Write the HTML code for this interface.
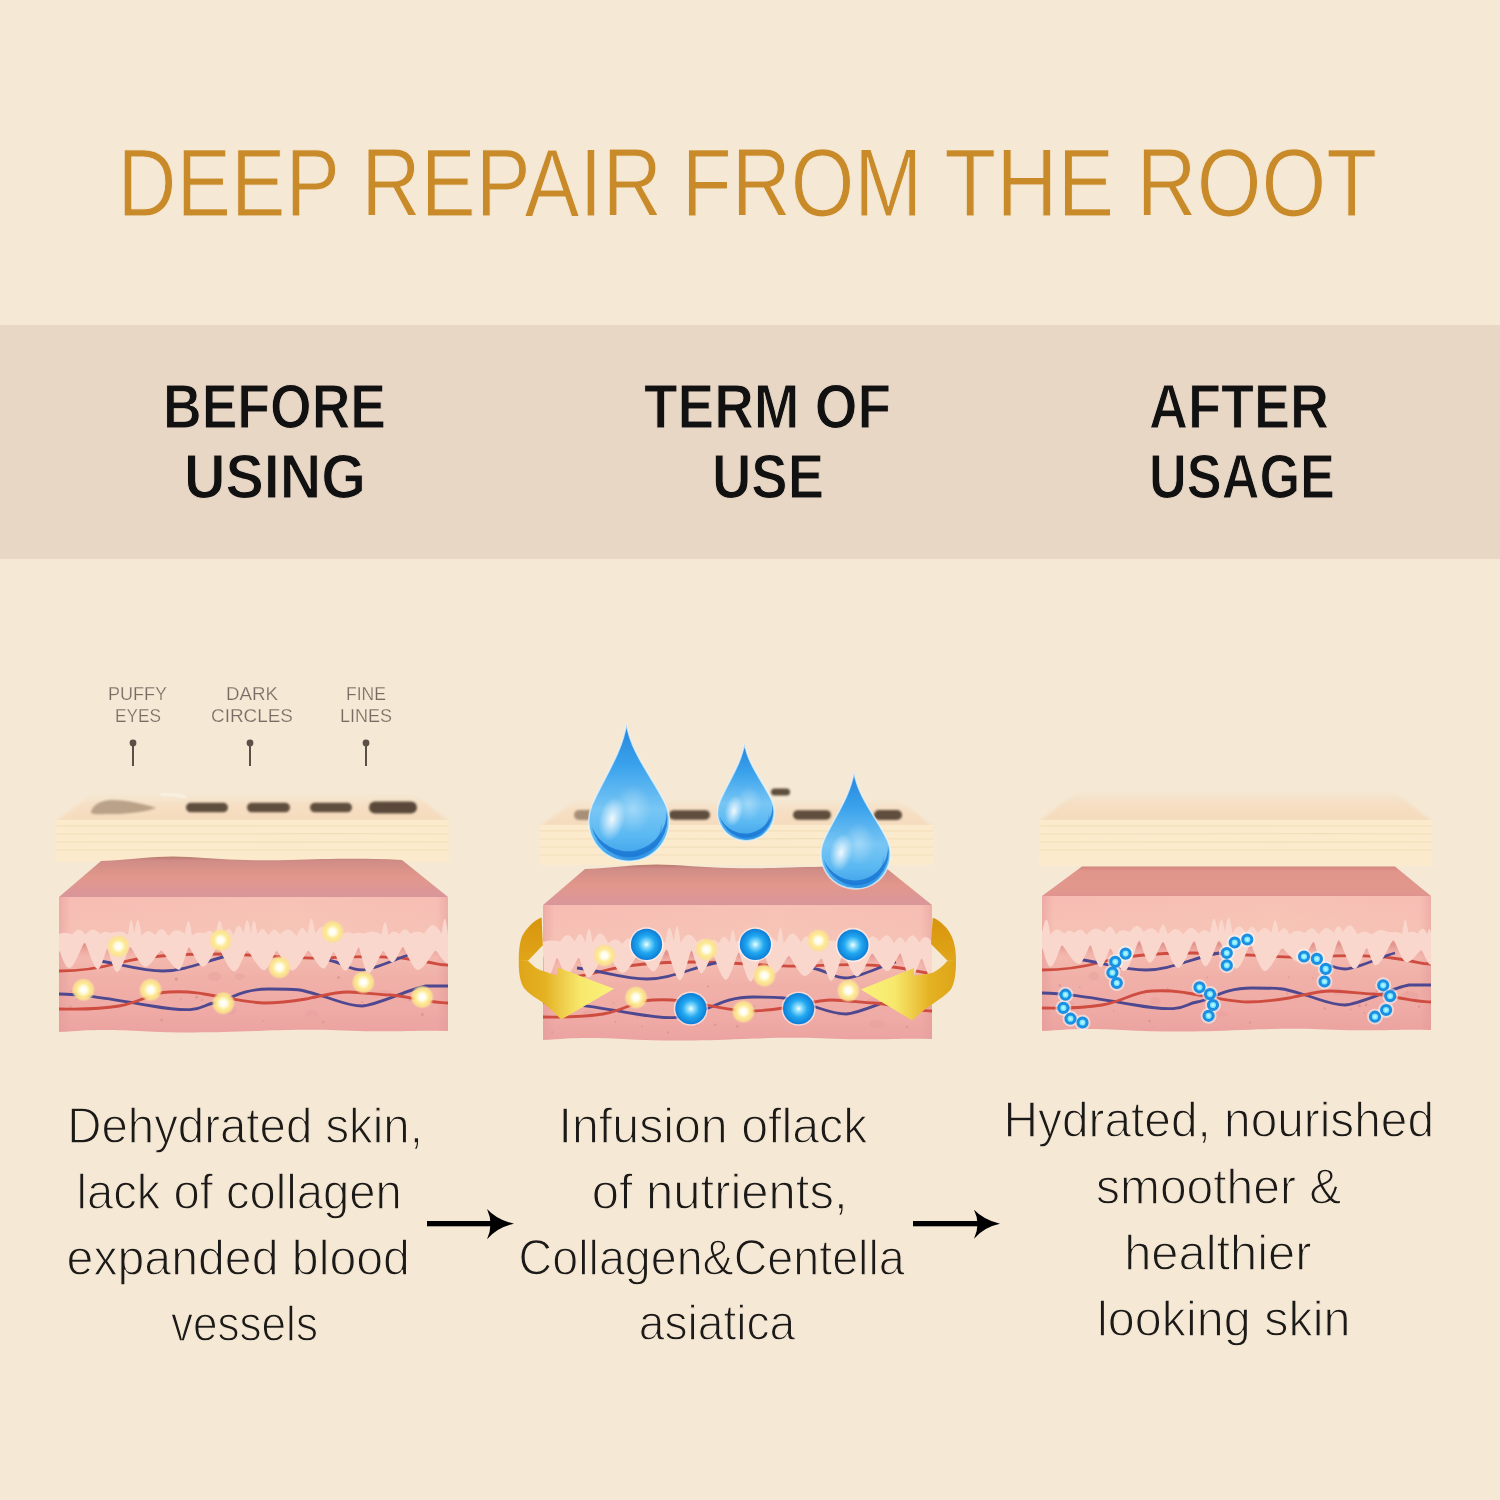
<!DOCTYPE html>
<html><head><meta charset="utf-8"><style>
html,body{margin:0;padding:0;background:#f5e8d4;width:1500px;height:1500px;overflow:hidden}
svg{display:block;will-change:transform}
text{font-family:"Liberation Sans",sans-serif}
</style></head><body>
<svg width="1500" height="1500" viewBox="0 0 1500 1500">
<rect width="1500" height="1500" fill="#f5e8d4"/>
<rect y="325" width="1500" height="234" fill="#e9d7c6"/>

<g font-size="96" fill="#c98b2a" stroke="#f5e8d4" stroke-width="1.1">
<text x="117.6" y="216" textLength="222.4" lengthAdjust="spacingAndGlyphs">DEEP</text>
<text x="361.2" y="216" textLength="300.8" lengthAdjust="spacingAndGlyphs">REPAIR</text>
<text x="681.8" y="216" textLength="240.6" lengthAdjust="spacingAndGlyphs">FROM</text>
<text x="944.3" y="216" textLength="170.0" lengthAdjust="spacingAndGlyphs">THE</text>
<text x="1136.6" y="216" textLength="240.5" lengthAdjust="spacingAndGlyphs">ROOT</text>
</g>

<g font-weight="bold" fill="#111" font-size="63" stroke="#e9d7c6" stroke-width="1.1">
<text x="163.0" y="428" textLength="223.0" lengthAdjust="spacingAndGlyphs">BEFORE</text>
<text x="184.0" y="498" textLength="182.0" lengthAdjust="spacingAndGlyphs">USING</text>
<text x="644.0" y="428" textLength="247.0" lengthAdjust="spacingAndGlyphs">TERM OF</text>
<text x="712.0" y="498" textLength="112.0" lengthAdjust="spacingAndGlyphs">USE</text>
<text x="1149.0" y="428" textLength="180.0" lengthAdjust="spacingAndGlyphs">AFTER</text>
<text x="1149.0" y="498" textLength="186.0" lengthAdjust="spacingAndGlyphs">USAGE</text>
</g>


<defs>
  <linearGradient id="beigeTop" x1="0" y1="0" x2="0" y2="1">
    <stop offset="0" stop-color="#f5e3cb" stop-opacity="0.2"/>
    <stop offset=".35" stop-color="#f6dfc3"/>
    <stop offset="1" stop-color="#f6dbbd"/>
  </linearGradient>
  <linearGradient id="pinkTop" x1="0" y1="0" x2="0" y2="1">
    <stop offset="0" stop-color="#b8786f"/>
    <stop offset=".1" stop-color="#cf8c86"/>
    <stop offset=".5" stop-color="#e2978b"/>
    <stop offset="1" stop-color="#d9969a"/>
  </linearGradient>
  <linearGradient id="front" x1="0" y1="0" x2="0" y2="1">
    <stop offset="0" stop-color="#f7bcb3"/>
    <stop offset=".25" stop-color="#f6c1b5"/>
    <stop offset=".45" stop-color="#f3b8ae"/>
    <stop offset=".6" stop-color="#f0b0a8"/>
    <stop offset=".85" stop-color="#efaaa5"/>
    <stop offset="1" stop-color="#eba3a0"/>
  </linearGradient>
  <linearGradient id="edges" x1="0" y1="0" x2="1" y2="0">
    <stop offset="0" stop-color="#e29a98" stop-opacity=".5"/>
    <stop offset=".03" stop-color="#e29a98" stop-opacity="0"/>
    <stop offset=".97" stop-color="#e29a98" stop-opacity="0"/>
    <stop offset="1" stop-color="#e29a98" stop-opacity=".5"/>
  </linearGradient>
  <linearGradient id="peach" x1="0" y1="0" x2="1" y2="0">
    <stop offset="0" stop-color="#f6c6b8" stop-opacity="0"/>
    <stop offset=".6" stop-color="#f7cbb8" stop-opacity=".8"/>
    <stop offset="1" stop-color="#f6c6b8" stop-opacity="0.2"/>
  </linearGradient>
  <radialGradient id="glow">
    <stop offset="0" stop-color="#ffffff"/>
    <stop offset=".28" stop-color="#fffce8"/>
    <stop offset=".55" stop-color="#fdea94"/>
    <stop offset=".8" stop-color="#fbe38e" stop-opacity=".85"/>
    <stop offset="1" stop-color="#f8dc9a" stop-opacity="0"/>
  </radialGradient>
  <radialGradient id="sph" cx=".5" cy=".5" r=".5">
    <stop offset="0" stop-color="#f0ffff"/>
    <stop offset=".22" stop-color="#8adcfb"/>
    <stop offset=".55" stop-color="#22a8f0"/>
    <stop offset="1" stop-color="#0c7ed8"/>
  </radialGradient>
  <linearGradient id="dropG" x1="0" y1="0" x2="0" y2="1">
    <stop offset="0" stop-color="#2784da"/>
    <stop offset=".3" stop-color="#3aa2ec"/>
    <stop offset=".62" stop-color="#78c6f4"/>
    <stop offset=".82" stop-color="#5ab8f2"/>
    <stop offset="1" stop-color="#3a9ee8"/>
  </linearGradient>
  <linearGradient id="pinkTopR" x1="0" y1="0" x2="0" y2="1">
    <stop offset="0" stop-color="#d2857c"/>
    <stop offset=".15" stop-color="#e0948a"/>
    <stop offset=".7" stop-color="#e2978c"/>
    <stop offset="1" stop-color="#df9490"/>
  </linearGradient>
  <linearGradient id="tipdark" x1="0" y1="0" x2="0" y2="1">
    <stop offset="0" stop-color="#cf6e6a" stop-opacity=".0"/>
    <stop offset=".35" stop-color="#cf6e6a" stop-opacity=".55"/>
    <stop offset=".75" stop-color="#e79a94" stop-opacity=".3"/>
    <stop offset="1" stop-color="#efaea6" stop-opacity="0"/>
  </linearGradient>
  <radialGradient id="ringC">
    <stop offset="0" stop-color="#c8ffff"/>
    <stop offset=".6" stop-color="#6ee0fc"/>
    <stop offset="1" stop-color="#3ab8f4"/>
  </radialGradient>
  <radialGradient id="hl2">
    <stop offset="0" stop-color="#bfe6fb" stop-opacity=".55"/>
    <stop offset="1" stop-color="#bfe6fb" stop-opacity="0"/>
  </radialGradient>
  <radialGradient id="hl">
    <stop offset="0" stop-color="#ffffff" stop-opacity=".9"/>
    <stop offset="1" stop-color="#ffffff" stop-opacity="0"/>
  </radialGradient>
  <linearGradient id="goldL" gradientUnits="userSpaceOnUse" x1="518" y1="0" x2="614" y2="0">
    <stop offset="0" stop-color="#dfa418"/>
    <stop offset=".28" stop-color="#e4b222"/>
    <stop offset=".45" stop-color="#eecb48"/>
    <stop offset=".65" stop-color="#f7e86c"/>
    <stop offset="1" stop-color="#faf27c"/>
  </linearGradient>
  <linearGradient id="goldR" gradientUnits="userSpaceOnUse" x1="956" y1="0" x2="861" y2="0">
    <stop offset="0" stop-color="#dfa418"/>
    <stop offset=".28" stop-color="#e4b222"/>
    <stop offset=".45" stop-color="#eecb48"/>
    <stop offset=".65" stop-color="#f7e86c"/>
    <stop offset="1" stop-color="#faf27c"/>
  </linearGradient>
  <linearGradient id="goldBack" x1="0" y1="0" x2="0" y2="1">
    <stop offset="0" stop-color="#d8940e"/>
    <stop offset="1" stop-color="#e0a618"/>
  </linearGradient>
  <filter id="soft2" x="-20%" y="-50%" width="140%" height="200%"><feGaussianBlur stdDeviation="0.8"/></filter>
  <filter id="soft" x="-5%" y="-30%" width="110%" height="160%"><feGaussianBlur stdDeviation="1.6"/></filter>
</defs>

<g fill="#766c64" font-size="18.5" stroke="#f4e8d4" stroke-width="0.25">
<text x="108" y="699.5" textLength="59" lengthAdjust="spacingAndGlyphs">PUFFY</text>
<text x="115" y="722" textLength="46" lengthAdjust="spacingAndGlyphs">EYES</text>
<text x="226" y="699.5" textLength="52" lengthAdjust="spacingAndGlyphs">DARK</text>
<text x="211" y="722" textLength="82" lengthAdjust="spacingAndGlyphs">CIRCLES</text>
<text x="346" y="699.5" textLength="40" lengthAdjust="spacingAndGlyphs">FINE</text>
<text x="340" y="722" textLength="52" lengthAdjust="spacingAndGlyphs">LINES</text>
</g>
<g fill="#5a5048" stroke="#5a5048">
<circle cx="133" cy="743" r="3.4" stroke="none"/><line x1="133" y1="743" x2="133" y2="766" stroke-width="2"/>
<circle cx="250" cy="743" r="3.4" stroke="none"/><line x1="250" y1="743" x2="250" y2="766" stroke-width="2"/>
<circle cx="366" cy="743" r="3.4" stroke="none"/><line x1="366" y1="743" x2="366" y2="766" stroke-width="2"/>
</g>
<g transform="translate(59,897)">
<g>
  <path d="M-3,-76 L33,-102 L356,-102 L390,-76 Z" fill="url(#beigeTop)" filter="url(#soft)"/>
  <rect x="-3" y="-77" width="393" height="42" fill="#fbebcc"/>
  <g stroke="#f0dbb8" stroke-width="1.2" fill="none" opacity=".85">
    <path d="M-3,-71 C100,-72 200,-70 390,-71"/>
    <path d="M-3,-63 C80,-62 250,-64 390,-63"/>
    <path d="M-3,-55 C120,-56 260,-54 390,-55"/>
    <path d="M-3,-47 C100,-46 220,-48 390,-47"/>
  </g>
  <path d="M0,0 L42,-36 C80,-38 100,-42 130,-40 S190,-36 230,-37 S300,-39 343,-37 L389,0 Z" fill="url(#pinkTop)"/>
  <path d="M0,0 L389,0 L389,134 C360,133 340,135 300,134 S250,132 200,134 S120,136 80,134 S30,133 0,135 Z" fill="url(#front)"/>
  <rect x="0" y="0" width="389" height="134" fill="url(#edges)"/>
  <rect x="0" y="0" width="389" height="48" fill="url(#peach)" opacity=".5"/>
  <rect x="0" y="40" width="389" height="22" fill="url(#tipdark)"/>
  <circle cx="142.8" cy="103.1" r="1.1" fill="#c77c7c" opacity="0.4"/><circle cx="160.7" cy="111.6" r="1" fill="#c77c7c" opacity="0.4"/><circle cx="11.8" cy="94.5" r="1.1" fill="#c77c7c" opacity="0.3"/><circle cx="285.3" cy="94.9" r="1.4" fill="#c77c7c" opacity="0.5"/><circle cx="102.6" cy="122.9" r="1.4" fill="#c77c7c" opacity="0.4"/><circle cx="18.2" cy="101.9" r="1.3" fill="#c77c7c" opacity="0.3"/><circle cx="91.7" cy="94.9" r="1" fill="#c77c7c" opacity="0.4"/><circle cx="137.7" cy="100.3" r="1.3" fill="#c77c7c" opacity="0.5"/><circle cx="117.3" cy="82.1" r="1.6" fill="#c77c7c" opacity="0.5"/><circle cx="302.8" cy="105.1" r="1" fill="#c77c7c" opacity="0.3"/><circle cx="121.5" cy="102.1" r="0.9" fill="#c77c7c" opacity="0.4"/><circle cx="279.5" cy="80.6" r="1.5" fill="#c77c7c" opacity="0.4"/><circle cx="350.7" cy="102.8" r="1.4" fill="#c77c7c" opacity="0.4"/><circle cx="236.7" cy="104" r="0.8" fill="#c77c7c" opacity="0.3"/><circle cx="94.6" cy="99.5" r="1.1" fill="#c77c7c" opacity="0.4"/><circle cx="253.9" cy="99.2" r="1.1" fill="#c77c7c" opacity="0.4"/><circle cx="363.4" cy="117.6" r="1.3" fill="#c77c7c" opacity="0.5"/><circle cx="93" cy="84.8" r="0.9" fill="#c77c7c" opacity="0.3"/><circle cx="11.4" cy="110" r="1.5" fill="#c77c7c" opacity="0.3"/><circle cx="264.2" cy="125.1" r="1.4" fill="#c77c7c" opacity="0.3"/><circle cx="246.1" cy="92.3" r="0.9" fill="#c77c7c" opacity="0.3"/><circle cx="204" cy="124.1" r="0.9" fill="#c77c7c" opacity="0.3"/><ellipse cx="155.5" cy="79.6" rx="6.9" ry="4.5" fill="#e49a9a" opacity=".35"/><ellipse cx="180.8" cy="79.6" rx="5.1" ry="3.4" fill="#e49a9a" opacity=".35"/><ellipse cx="252.8" cy="116.8" rx="7" ry="3.2" fill="#e49a9a" opacity=".35"/><ellipse cx="95.4" cy="95.5" rx="5.4" ry="3.2" fill="#e49a9a" opacity=".35"/><ellipse cx="171.5" cy="113.3" rx="6" ry="4.8" fill="#e49a9a" opacity=".35"/><ellipse cx="325.8" cy="96.2" rx="5.9" ry="3.4" fill="#e49a9a" opacity=".35"/>
  
<path d="M0,74 C25,74 45,70 60,66 S100,57 150,57 S230,62 260,61 S320,58 350,62 S375,68 389,68" stroke="#cf4c40" stroke-width="2.8" fill="none"/>
<path d="M34,63 C60,66 80,74 104,74 S150,62 177,57 M269,63 C285,66 290,73 303,73 S340,60 353,57" stroke="#4e4890" stroke-width="2.8" fill="none"/>
<path d="M0,97 C20,97 40,100 93,109 S140,108 155,106 S180,92 210,92 S240,92 260,98 S290,109 303,109 S350,92 367,89 L389,89" stroke="#4e4890" stroke-width="2.8" fill="none"/>
<path d="M0,112 C20,112 37,113 60,109 S90,96 110,95 S130,95 145,97 S190,106 205,106 S235,104 247,102 S275,95 289,95 S320,98 331,98 S370,106 389,106" stroke="#cf4c40" stroke-width="2.8" fill="none"/>

  <path d="M0,37 Q3.9,35.7 6.5,35.7 Q9.1,35.7 13.1,37.4 Q17.1,32.7 19.9,32.7 Q22.6,32.7 26.6,37.5 Q31,32.4 34,32.4 Q36.9,32.4 41.3,36.9 Q44.3,34.8 46.2,34.8 Q48.2,34.8 51.1,36.1 Q56.5,34.6 60,34.6 Q63.6,34.6 69,37.8 Q70.8,23.1 72.1,23.1 Q73.3,23.1 75.1,36.6 Q77.3,22.9 78.8,22.9 Q80.3,22.9 82.5,38.5 Q86.6,34 89.3,34 Q92,34 96.1,38 Q100.1,32 102.7,32 Q105.3,32 109.3,39 Q114.2,33.3 117.5,33.3 Q120.8,33.3 125.8,36.7 Q128,24.1 129.4,24.1 Q130.9,24.1 133,38.5 Q136.8,35.4 139.3,35.4 Q141.8,35.4 145.5,36 Q148.8,33.9 150.9,33.9 Q153.1,33.9 156.4,38.9 Q158.9,23.5 160.6,23.5 Q162.2,23.5 164.7,36.8 Q167.7,31.9 169.6,31.9 Q171.6,31.9 174.5,38.3 Q177.5,28.4 179.5,28.4 Q181.5,28.4 184.6,36.2 Q186.8,23.2 188.2,23.2 Q189.7,23.2 191.9,36.6 Q193.8,23.6 195.1,23.6 Q196.4,23.6 198.3,37.3 Q201.5,31.9 203.7,31.9 Q205.9,31.9 209.2,38.4 Q212.7,32.8 215,32.8 Q217.4,32.8 220.9,37.2 Q225.9,32.4 229.3,32.4 Q232.6,32.4 237.6,39 Q240.9,31.1 243.1,31.1 Q245.2,31.1 248.5,37 Q250.8,21.4 252.4,21.4 Q253.9,21.4 256.3,36.7 Q260.6,29.8 263.5,29.8 Q266.4,29.8 270.7,38.9 Q274.7,35.5 277.4,35.5 Q280,35.5 284,36.5 Q287.1,35.3 289.2,35.3 Q291.3,35.3 294.4,36.7 Q297.6,35.8 299.8,35.8 Q301.9,35.8 305.1,36.6 Q310.4,34.4 313.9,34.4 Q317.4,34.4 322.7,37.3 Q324.7,24.9 326,24.9 Q327.4,24.9 329.4,38.1 Q332.8,34.4 335.1,34.4 Q337.3,34.4 340.7,36.9 Q343.9,32.3 346,32.3 Q348.1,32.3 351.3,36.7 Q355.5,34.5 358.3,34.5 Q361.1,34.5 365.3,36.8 Q370.5,28.1 373.9,28.1 Q377.4,28.1 382.6,36.8 Q384.5,21.7 385.8,21.7 Q387.1,21.7 389,37.7 L389,66.6 C384.6,66.6 378.5,53.7 376.7,53.7 C374.2,53.7 365.3,72.9 358.9,72.9 C353.4,72.9 345.8,50 343.7,50 C342.3,50 337.1,65.4 333.4,65.4 C330.1,65.4 325.6,53.9 324.3,53.9 C322.1,53.9 314.5,76.6 309,76.6 C305.7,76.6 301.1,50.6 299.8,50.6 C297.9,50.6 291.2,73.8 286.4,73.8 C282.2,73.8 276.2,55 274.6,55 C273.2,55 268.4,71.6 264.9,71.6 C259.3,71.6 251.4,53.8 249.3,53.8 C247.1,53.8 239.2,73.4 233.6,73.4 C227.8,73.4 219.7,54 217.5,54 C215.8,54 209.7,73.2 205.3,73.2 C199.2,73.2 190.6,53.5 188.2,53.5 C186.4,53.5 180,74.5 175.4,74.5 C169.4,74.5 161,49.9 158.7,49.9 C156.6,49.9 149.3,69.6 144.1,69.6 C138.9,69.6 131.8,50.3 129.8,50.3 C128.4,50.3 123.6,72.7 120.1,72.7 C113.6,72.7 104.7,53.6 102.1,53.6 C100,53.6 92.2,69.7 86.6,69.7 C81,69.7 73.2,50 71,50 C69.2,50 62.7,75.1 58,75.1 C54.5,75.1 49.6,52 48.3,52 C47,52 42.3,72.2 39,72.2 C34.2,72.2 27.5,45.8 25.7,45.8 C23.5,45.8 15.9,71 10.4,71 C5.1,71 2,54 0,54 Z" fill="#fad7cd"/>
</g><path d="M32,-84.5 C33,-92 42,-97 53,-97 C70,-97 89,-92 97,-89 C88,-85.5 70,-83 55,-83 C42,-83 32,-82 32,-84.5 Z" fill="#b9a288" filter="url(#soft2)"/><rect x="127" y="-94.2" width="42" height="9.5" rx="4.8" fill="#5e4e3e" opacity="1" filter="url(#soft2)"/><rect x="188" y="-94.2" width="43" height="9.5" rx="4.8" fill="#5e4e3e" opacity="1" filter="url(#soft2)"/><rect x="251" y="-94.2" width="42" height="9.5" rx="4.8" fill="#5e4e3e" opacity="1" filter="url(#soft2)"/><rect x="310" y="-95.5" width="48" height="12" rx="6" fill="#5a4a3a" opacity="1" filter="url(#soft2)"/><circle cx="59.4" cy="49.4" r="12" fill="url(#glow)"/><circle cx="161.6" cy="43.2" r="12" fill="url(#glow)"/><circle cx="273.6" cy="34.8" r="12" fill="url(#glow)"/><circle cx="220.4" cy="70.4" r="12" fill="url(#glow)"/><circle cx="24.4" cy="92.8" r="12" fill="url(#glow)"/><circle cx="91.6" cy="92.8" r="12" fill="url(#glow)"/><circle cx="164.4" cy="106.2" r="12" fill="url(#glow)"/><circle cx="304.4" cy="85.2" r="12" fill="url(#glow)"/><circle cx="363.2" cy="100" r="12" fill="url(#glow)"/><path d="M101,-102.5 C110,-103 120,-102 127,-100" stroke="#fffaf0" stroke-width="2" fill="none" opacity=".8" filter="url(#soft2)"/></g><g transform="translate(543,905)">
<g>
  <path d="M-3,-79 L33,-104 L356,-104 L390,-79 Z" fill="url(#beigeTop)" filter="url(#soft)"/>
  <rect x="-3" y="-80" width="393" height="40" fill="#fbebcc"/>
  <g stroke="#f0dbb8" stroke-width="1.2" fill="none" opacity=".85">
    <path d="M-3,-74 C100,-75 200,-73 390,-74"/>
    <path d="M-3,-66 C80,-65 250,-67 390,-66"/>
    <path d="M-3,-58 C120,-59 260,-57 390,-58"/>
    <path d="M-3,-50 C100,-49 220,-51 390,-50"/>
  </g>
  <path d="M0,0 L42,-36 C80,-38 100,-42 130,-40 S190,-36 230,-37 S300,-39 343,-37 L389,0 Z" fill="url(#pinkTop)"/>
  <path d="M0,0 L389,0 L389,134 C360,133 340,135 300,134 S250,132 200,134 S120,136 80,134 S30,133 0,135 Z" fill="url(#front)"/>
  <rect x="0" y="0" width="389" height="134" fill="url(#edges)"/>
  <rect x="0" y="0" width="389" height="48" fill="url(#peach)" opacity=".5"/>
  <rect x="0" y="40" width="389" height="22" fill="url(#tipdark)"/>
  <circle cx="50.1" cy="86.3" r="1.3" fill="#c77c7c" opacity="0.3"/><circle cx="57.4" cy="102.3" r="1.1" fill="#c77c7c" opacity="0.3"/><circle cx="154.1" cy="120.4" r="0.9" fill="#c77c7c" opacity="0.3"/><circle cx="18.4" cy="91.5" r="0.9" fill="#c77c7c" opacity="0.5"/><circle cx="125.3" cy="127.5" r="0.9" fill="#c77c7c" opacity="0.5"/><circle cx="196.9" cy="113.1" r="1.3" fill="#c77c7c" opacity="0.3"/><circle cx="94.7" cy="112.6" r="0.9" fill="#c77c7c" opacity="0.3"/><circle cx="295.6" cy="110.4" r="1" fill="#c77c7c" opacity="0.4"/><circle cx="347.4" cy="93.4" r="0.9" fill="#c77c7c" opacity="0.4"/><circle cx="70.5" cy="97.7" r="0.8" fill="#c77c7c" opacity="0.4"/><circle cx="308.8" cy="97.9" r="1.1" fill="#c77c7c" opacity="0.3"/><circle cx="363.8" cy="122.1" r="1.3" fill="#c77c7c" opacity="0.3"/><circle cx="72.3" cy="116.8" r="1" fill="#c77c7c" opacity="0.4"/><circle cx="165" cy="81.5" r="1" fill="#c77c7c" opacity="0.5"/><circle cx="128.2" cy="112.4" r="1.4" fill="#c77c7c" opacity="0.3"/><circle cx="194.2" cy="121.3" r="1.4" fill="#c77c7c" opacity="0.4"/><circle cx="211.2" cy="101.5" r="1.1" fill="#c77c7c" opacity="0.4"/><circle cx="98.9" cy="121.5" r="1" fill="#c77c7c" opacity="0.3"/><circle cx="367.5" cy="80.7" r="1.1" fill="#c77c7c" opacity="0.4"/><circle cx="172.1" cy="119.8" r="1.3" fill="#c77c7c" opacity="0.4"/><circle cx="9.3" cy="127.3" r="1.1" fill="#c77c7c" opacity="0.3"/><circle cx="89.9" cy="89.4" r="0.9" fill="#c77c7c" opacity="0.3"/><ellipse cx="254.7" cy="90.4" rx="7" ry="4.3" fill="#e49a9a" opacity=".35"/><ellipse cx="45.2" cy="109.9" rx="5.8" ry="4.6" fill="#e49a9a" opacity=".35"/><ellipse cx="329.9" cy="96.9" rx="6.3" ry="4" fill="#e49a9a" opacity=".35"/><ellipse cx="334.1" cy="119.1" rx="7.9" ry="3.8" fill="#e49a9a" opacity=".35"/><ellipse cx="159.6" cy="107.3" rx="6.3" ry="4.6" fill="#e49a9a" opacity=".35"/><ellipse cx="139.4" cy="102.2" rx="7.1" ry="4.1" fill="#e49a9a" opacity=".35"/>
  
<path d="M0,74 C25,74 45,70 60,66 S100,57 150,57 S230,62 260,61 S320,58 350,62 S375,68 389,68" stroke="#cf4c40" stroke-width="2.8" fill="none"/>
<path d="M34,63 C60,66 80,74 104,74 S150,62 177,57 M269,63 C285,66 290,73 303,73 S340,60 353,57" stroke="#4e4890" stroke-width="2.8" fill="none"/>
<path d="M0,97 C20,97 40,100 93,109 S140,108 155,106 S180,92 210,92 S240,92 260,98 S290,109 303,109 S350,92 367,89 L389,89" stroke="#4e4890" stroke-width="2.8" fill="none"/>
<path d="M0,112 C20,112 37,113 60,109 S90,96 110,95 S130,95 145,97 S190,106 205,106 S235,104 247,102 S275,95 289,95 S320,98 331,98 S370,106 389,106" stroke="#cf4c40" stroke-width="2.8" fill="none"/>

  <path d="M0,37 Q5.2,35.6 8.7,35.6 Q12.1,35.6 17.3,36.3 Q21.6,30.1 24.5,30.1 Q27.4,30.1 31.7,36.4 Q34.9,28.9 37,28.9 Q39.2,28.9 42.4,37.4 Q44.6,23.8 46,23.8 Q47.5,23.8 49.6,37.5 Q54.3,28.2 57.4,28.2 Q60.6,28.2 65.3,38.3 Q69.5,34.5 72.4,34.5 Q75.3,34.5 79.6,38.9 Q83.2,33.5 85.7,33.5 Q88.1,33.5 91.8,37.7 Q96.3,28.3 99.3,28.3 Q102.3,28.3 106.8,37.4 Q111.4,33.8 114.5,33.8 Q117.6,33.8 122.2,37.9 Q124.8,22.3 126.4,22.3 Q128.1,22.3 130.7,36.6 Q132.7,21.2 134.1,21.2 Q135.5,21.2 137.5,37.7 Q142.4,29.5 145.7,29.5 Q149,29.5 153.9,36.9 Q157.4,34.2 159.8,34.2 Q162.1,34.2 165.6,36.8 Q168.6,34.8 170.6,34.8 Q172.6,34.8 175.6,38.5 Q178.9,31.7 181.2,31.7 Q183.4,31.7 186.7,37.8 Q188.6,24.9 189.8,24.9 Q191.1,24.9 192.9,37.2 Q195.7,34.7 197.5,34.7 Q199.3,34.7 202.1,38.9 Q207,34.2 210.2,34.2 Q213.5,34.2 218.4,39 Q223.1,31.9 226.2,31.9 Q229.4,31.9 234.1,37.1 Q236.1,22.9 237.4,22.9 Q238.7,22.9 240.7,38.8 Q246,28.4 249.5,28.4 Q253,28.4 258.2,37.6 Q261.4,31.3 263.5,31.3 Q265.6,31.3 268.8,36.8 Q272.6,33.8 275.2,33.8 Q277.7,33.8 281.6,37 Q286.7,35.6 290.1,35.6 Q293.5,35.6 298.6,38.1 Q302.4,35.3 305,35.3 Q307.5,35.3 311.3,37.9 Q314.7,29.6 316.9,29.6 Q319.1,29.6 322.5,38.3 Q326.7,31.3 329.5,31.3 Q332.3,31.3 336.5,36.3 Q340.9,30.2 343.8,30.2 Q346.7,30.2 351.2,38.5 Q354.5,32.3 356.8,32.3 Q359,32.3 362.4,37.7 Q366.5,30.2 369.3,30.2 Q372.1,30.2 376.3,37.4 Q380.1,32 382.6,32 Q385.2,32 389,37.1 L389,74.4 C385.3,74.4 380.2,53.4 378.7,53.4 C377.2,53.4 371.8,73.2 367.9,73.2 C364.1,73.2 358.8,48.4 357.3,48.4 C355.5,48.4 349.1,66 344.5,66 C339,66 331.4,48.8 329.2,48.8 C327.1,48.8 319.5,71.5 314,71.5 C309,71.5 302,49.3 300,49.3 C298.4,49.3 292.6,75.8 288.3,75.8 C284.8,75.8 279.9,53.5 278.6,53.5 C276.2,53.5 267.8,71 261.8,71 C256,71 248,51.1 245.8,51.1 C243.8,51.1 236.6,68.5 231.4,68.5 C227.1,68.5 221.1,47.2 219.5,47.2 C217.8,47.2 212,76.5 207.8,76.5 C203.4,76.5 197.4,47.7 195.7,47.7 C193.9,47.7 187.5,74.8 182.9,74.8 C178.1,74.8 171.5,49.6 169.6,49.6 C168,49.6 162.4,68.3 158.3,68.3 C154.8,68.3 149.9,45.6 148.5,45.6 C146.9,45.6 141.2,75.2 137.1,75.2 C132.3,75.2 125.5,44.3 123.6,44.3 C121.8,44.3 115.2,66.5 110.5,66.5 C105.4,66.5 98.3,48.3 96.4,48.3 C94,48.3 85.7,68.1 79.6,68.1 C73.6,68.1 65.3,46 63,46 C60.5,46 51.6,72.6 45.1,72.6 C41.8,72.6 37.1,52.7 35.8,52.7 C34.1,52.7 28.4,69.3 24.3,69.3 C20.6,69.3 15.4,53 14,53 C12.6,53 7.7,73.9 4.1,73.9 C-0.4,73.9 1.8,51.2 0,51.2 Z" fill="#fad7cd"/>
</g><rect x="31" y="-95" width="26" height="10" rx="5" fill="#a89078" filter="url(#soft2)"/><rect x="126" y="-94.8" width="41" height="9.5" rx="4.8" fill="#5e4e3e" filter="url(#soft2)"/><rect x="228" y="-116.5" width="19" height="7" rx="3.5" fill="#5e4e3e" filter="url(#soft2)"/><rect x="250" y="-94.8" width="38" height="9.5" rx="4.8" fill="#5e4e3e" filter="url(#soft2)"/><rect x="331" y="-95" width="28" height="10" rx="5" fill="#5e4e3e" filter="url(#soft2)"/><circle cx="61.5" cy="50.5" r="12" fill="url(#glow)"/><circle cx="163.5" cy="44.5" r="12" fill="url(#glow)"/><circle cx="275.4" cy="35.5" r="12" fill="url(#glow)"/><circle cx="221.4" cy="70.6" r="12" fill="url(#glow)"/><circle cx="93" cy="92.5" r="12" fill="url(#glow)"/><circle cx="200.4" cy="106.6" r="12" fill="url(#glow)"/><circle cx="305.4" cy="85.6" r="12" fill="url(#glow)"/><circle cx="103.5" cy="39.4" r="17.2" fill="#fff" opacity=".55"/><circle cx="103.5" cy="39.4" r="15.6" fill="url(#sph)"/><circle cx="212.4" cy="39.4" r="17.2" fill="#fff" opacity=".55"/><circle cx="212.4" cy="39.4" r="15.6" fill="url(#sph)"/><circle cx="309.9" cy="40" r="17.2" fill="#fff" opacity=".55"/><circle cx="309.9" cy="40" r="15.6" fill="url(#sph)"/><circle cx="147.9" cy="103.6" r="17.2" fill="#fff" opacity=".55"/><circle cx="147.9" cy="103.6" r="15.6" fill="url(#sph)"/><circle cx="255.6" cy="103.6" r="17.2" fill="#fff" opacity=".55"/><circle cx="255.6" cy="103.6" r="15.6" fill="url(#sph)"/></g>
<path d="M541.6,917.6 C534,920 526,929 522,936.4 C519.5,943 518.6,952 518.8,961 L528,960.8 L542.8,945.2 Z" fill="url(#goldBack)"/>
<path d="M528,960.8 C533,966 537,969.5 542,970.8 C548,972.5 553,974.5 558,975.6 L558,967.6 L614,988.8 L561.2,1019.6 C555,1013 548,1006.5 542,1002 C535,997.5 528,993 524,988 C520,982 518.6,972 518.8,961 Z" fill="url(#goldL)"/>
<path d="M932.7,917.7 C940,920 948,928 952,937 C955,944 956,952 956,961 L947.6,960.7 L931,943.9 Z" fill="url(#goldBack)"/>
<path d="M947.6,960.7 C943,966 938,970 932.7,972.8 C926,974.5 920,975 914,975.6 L914,968.1 L860.8,989.6 L912.1,1020.4 C920,1013 928,1007 937.3,1000.8 C944,996 949,992 951.3,988.7 C955,982 956,972 956,961 Z" fill="url(#goldR)"/>
<path d="M626.5,723.8 C630.9,753 652.8,777.9 665.2,803.4 A40.3,40.3 0 1 1 591.9,805.2 C603,779.2 622.1,753 626.5,723.8 Z" fill="url(#dropG)" stroke="#eaf6ff" stroke-opacity=".7" stroke-width="1.6"/><path d="M591.9,827 A38.7,38.7 0 0 0 666.5,810.9 A34.7,34.7 0 0 1 591.9,827 Z" fill="#1670d0" opacity=".75"/><path d="M604.8,843.2 A32.2,32.2 0 0 0 661.2,823 A30.2,30.2 0 0 1 604.8,843.2 Z" fill="#1a7ad6" opacity=".35"/><ellipse cx="612.1" cy="819" rx="12.9" ry="22.2" fill="url(#hl)" transform="rotate(12 612.1 819)"/><ellipse cx="633" cy="808.9" rx="18.1" ry="24.2" fill="url(#hl2)"/><path d="M744.5,743.2 C747.6,763.9 763,781.8 771.7,800 A28.5,28.5 0 1 1 719.8,801.1 C727.7,782.6 741.4,763.9 744.5,743.2 Z" fill="url(#dropG)" stroke="#eaf6ff" stroke-opacity=".7" stroke-width="1.6"/><path d="M719.8,816.6 A27.4,27.4 0 0 0 772.5,805.2 A24.5,24.5 0 0 1 719.8,816.6 Z" fill="#1670d0" opacity=".75"/><path d="M728.9,828 A22.8,22.8 0 0 0 768.8,813.7 A21.4,21.4 0 0 1 728.9,828 Z" fill="#1a7ad6" opacity=".35"/><ellipse cx="734" cy="810.9" rx="9.1" ry="15.7" fill="url(#hl)" transform="rotate(12 734 810.9)"/><ellipse cx="748.9" cy="803.8" rx="12.8" ry="17.1" fill="url(#hl2)"/><path d="M854,772 C857.8,796.7 876.3,817.5 886.8,838.9 A34.7,34.7 0 1 1 823.9,840.2 C833.6,818.4 850.2,796.7 854,772 Z" fill="url(#dropG)" stroke="#eaf6ff" stroke-opacity=".7" stroke-width="1.6"/><path d="M823.8,859.4 A33.3,33.3 0 0 0 888,845.5 A29.8,29.8 0 0 1 823.8,859.4 Z" fill="#1670d0" opacity=".75"/><path d="M834.9,873.3 A27.8,27.8 0 0 0 883.5,855.9 A26,26 0 0 1 834.9,873.3 Z" fill="#1a7ad6" opacity=".35"/><ellipse cx="841.1" cy="852.5" rx="11.1" ry="19.1" fill="url(#hl)" transform="rotate(12 841.1 852.5)"/><ellipse cx="859.2" cy="843.8" rx="15.6" ry="20.8" fill="url(#hl2)"/><g transform="translate(1042,896)">
<g>
  <path d="M-3,-75 L36,-104 L352,-104 L390,-75 Z" fill="url(#beigeTop)" filter="url(#soft)"/>
  <rect x="-3" y="-76" width="393" height="46" fill="#fbebcc"/>
  <g stroke="#f0dbb8" stroke-width="1.2" fill="none" opacity=".85">
    <path d="M-3,-70 C100,-71 200,-69 390,-70"/>
    <path d="M-3,-62 C80,-61 250,-63 390,-62"/>
    <path d="M-3,-54 C120,-55 260,-53 390,-54"/>
    <path d="M-3,-46 C100,-45 220,-47 390,-46"/>
  </g>
  <path d="M0,0 L40,-29.5 L353,-29.5 L389,0 Z" fill="url(#pinkTopR)"/>
  <path d="M0,0 L389,0 L389,134 C360,133 340,135 300,134 S250,132 200,134 S120,136 80,134 S30,133 0,135 Z" fill="url(#front)"/>
  <rect x="0" y="0" width="389" height="134" fill="url(#edges)"/>
  <rect x="0" y="0" width="389" height="48" fill="url(#peach)" opacity=".5"/>
  <rect x="0" y="40" width="389" height="22" fill="url(#tipdark)"/>
  <circle cx="246.5" cy="81.2" r="1" fill="#c77c7c" opacity="0.3"/><circle cx="282.7" cy="112.5" r="1.5" fill="#c77c7c" opacity="0.3"/><circle cx="165.4" cy="81.4" r="1" fill="#c77c7c" opacity="0.4"/><circle cx="17.9" cy="89.5" r="1.3" fill="#c77c7c" opacity="0.4"/><circle cx="90.2" cy="108.3" r="1.4" fill="#c77c7c" opacity="0.3"/><circle cx="308.6" cy="113.5" r="1.1" fill="#c77c7c" opacity="0.3"/><circle cx="365" cy="96.2" r="0.9" fill="#c77c7c" opacity="0.3"/><circle cx="324.1" cy="109" r="1.4" fill="#c77c7c" opacity="0.4"/><circle cx="208" cy="126.7" r="1.1" fill="#c77c7c" opacity="0.4"/><circle cx="317.4" cy="109.7" r="1.5" fill="#c77c7c" opacity="0.4"/><circle cx="270.8" cy="82.2" r="1" fill="#c77c7c" opacity="0.3"/><circle cx="37.8" cy="91.2" r="0.9" fill="#c77c7c" opacity="0.3"/><circle cx="245.1" cy="97.5" r="1.1" fill="#c77c7c" opacity="0.3"/><circle cx="107.6" cy="125" r="1.3" fill="#c77c7c" opacity="0.4"/><circle cx="71.8" cy="115" r="0.9" fill="#c77c7c" opacity="0.3"/><circle cx="377.1" cy="110.7" r="1.2" fill="#c77c7c" opacity="0.4"/><circle cx="322.4" cy="117.2" r="1" fill="#c77c7c" opacity="0.3"/><circle cx="125.7" cy="92.9" r="1" fill="#c77c7c" opacity="0.5"/><circle cx="334.9" cy="95.1" r="1.3" fill="#c77c7c" opacity="0.3"/><circle cx="349.1" cy="102" r="1" fill="#c77c7c" opacity="0.3"/><circle cx="217.4" cy="92.6" r="1.3" fill="#c77c7c" opacity="0.5"/><circle cx="157" cy="90.5" r="1.6" fill="#c77c7c" opacity="0.4"/><ellipse cx="51.7" cy="80" rx="5.4" ry="4.3" fill="#e49a9a" opacity=".35"/><ellipse cx="296.4" cy="95.7" rx="5.3" ry="3.8" fill="#e49a9a" opacity=".35"/><ellipse cx="367.6" cy="100.2" rx="8.9" ry="4.7" fill="#e49a9a" opacity=".35"/><ellipse cx="24" cy="108.3" rx="7.7" ry="4.1" fill="#e49a9a" opacity=".35"/><ellipse cx="113.1" cy="104.9" rx="5.4" ry="3.9" fill="#e49a9a" opacity=".35"/><ellipse cx="178.3" cy="118.1" rx="8.5" ry="3.5" fill="#e49a9a" opacity=".35"/>
  
<path d="M0,74 C25,74 45,70 60,66 S100,57 150,57 S230,62 260,61 S320,58 350,62 S375,68 389,68" stroke="#cf4c40" stroke-width="2.8" fill="none"/>
<path d="M34,63 C60,66 80,74 104,74 S150,62 177,57 M269,63 C285,66 290,73 303,73 S340,60 353,57" stroke="#4e4890" stroke-width="2.8" fill="none"/>
<path d="M0,97 C20,97 40,100 93,109 S140,108 155,106 S180,92 210,92 S240,92 260,98 S290,109 303,109 S350,92 367,89 L389,89" stroke="#4e4890" stroke-width="2.8" fill="none"/>
<path d="M0,112 C20,112 37,113 60,109 S90,96 110,95 S130,95 145,97 S190,106 205,106 S235,104 247,102 S275,95 289,95 S320,98 331,98 S370,106 389,106" stroke="#cf4c40" stroke-width="2.8" fill="none"/>

  <path d="M0,37 Q2.6,23.5 4.3,23.5 Q6,23.5 8.5,38.5 Q12.6,33.5 15.3,33.5 Q18.1,33.5 22.2,37.6 Q25.2,34.4 27.1,34.4 Q29.1,34.4 32.1,36.8 Q35.9,33.8 38.3,33.8 Q40.8,33.8 44.5,38.9 Q49.9,32.4 53.4,32.4 Q57,32.4 62.3,36.2 Q65.8,30.8 68.1,30.8 Q70.4,30.8 73.9,38.5 Q78.1,34.3 80.9,34.3 Q83.7,34.3 87.9,36.1 Q92.1,29.7 94.8,29.7 Q97.6,29.7 101.7,36 Q106.2,32.3 109.1,32.3 Q112.1,32.3 116.6,37.7 Q119.3,28.6 121.2,28.6 Q123,28.6 125.8,38.6 Q130.5,32.9 133.6,32.9 Q136.7,32.9 141.3,38.2 Q145.9,31.7 149,31.7 Q152.1,31.7 156.6,37.9 Q160.1,33.9 162.4,33.9 Q164.7,33.9 168.2,36.6 Q170.5,22.8 172,22.8 Q173.6,22.8 175.9,36 Q178,23.6 179.4,23.6 Q180.8,23.6 182.9,36.1 Q185.1,21.6 186.6,21.6 Q188.1,21.6 190.4,36.7 Q194.5,30.3 197.3,30.3 Q200,30.3 204.2,37.6 Q207.7,30.8 210,30.8 Q212.3,30.8 215.8,37.3 Q219.9,32 222.7,32 Q225.4,32 229.5,36.8 Q231.7,24 233.1,24 Q234.5,24 236.7,36.9 Q239.9,32.2 242.1,32.2 Q244.2,32.2 247.5,38.5 Q252.1,34.8 255.1,34.8 Q258.2,34.8 262.8,37 Q267,32.2 269.8,32.2 Q272.6,32.2 276.7,38.5 Q281.3,31.9 284.3,31.9 Q287.3,31.9 291.8,36.9 Q294.5,30.1 296.3,30.1 Q298.1,30.1 300.9,36.1 Q305.1,29.3 308,29.3 Q310.9,29.3 315.2,38.3 Q319.5,35.5 322.5,35.5 Q325.4,35.5 329.7,38.6 Q335,33.9 338.4,33.9 Q341.9,33.9 347.1,36.2 Q351,35.9 353.7,35.9 Q356.3,35.9 360.2,38 Q362,23.6 363.2,23.6 Q364.4,23.6 366.3,36.4 Q369.1,35.8 371,35.8 Q372.8,35.8 375.7,37.8 Q378.6,32.7 380.6,32.7 Q382.5,32.7 385.5,38.1 Q386.5,32.7 387.2,32.7 Q387.9,32.7 389,36.7 L389,68.8 C385.5,68.8 380.7,54.3 379.3,54.3 C377.3,54.3 370,66.3 364.7,66.3 C359.9,66.3 353.3,44.2 351.4,44.2 C348.9,44.2 340.1,69.3 333.7,69.3 C330.5,69.3 326,51.9 324.7,51.9 C323,51.9 317,72.8 312.7,72.8 C307,72.8 298.9,43.9 296.7,43.9 C294.7,43.9 287.8,76.4 282.8,76.4 C278.8,76.4 273.3,46 271.7,46 C269.6,46 262.1,65.7 256.7,65.7 C250.8,65.7 242.6,52.6 240.3,52.6 C237.8,52.6 229.1,75 222.8,75 C217.6,75 210.5,48.5 208.5,48.5 C206.6,48.5 199.7,72.6 194.7,72.6 C188.3,72.6 179.4,44.8 176.9,44.8 C175,44.8 168.3,70.4 163.5,70.4 C159.4,70.4 153.8,45 152.3,45 C150,45 142,72 136.2,72 C130.7,72 123.1,46.1 121,46.1 C119.1,46.1 112.5,66.9 107.7,66.9 C104,66.9 98.8,44.6 97.3,44.6 C95.3,44.6 87.8,75.2 82.5,75.2 C77.4,75.2 70.3,52.4 68.3,52.4 C67,52.4 62.1,71.2 58.6,71.2 C54.9,71.2 49.8,49.3 48.4,49.3 C46.8,49.3 41.2,68 37.1,68 C30.9,68 22.3,49.6 19.9,49.6 C18.3,49.6 12.7,70.9 8.7,70.9 C4.5,70.9 1.6,52.5 0,52.5 Z" fill="#fad7cd"/>
</g><circle cx="23.5" cy="98.7" r="8" fill="#eefaff" opacity=".55"/><circle cx="21.4" cy="111.9" r="8" fill="#eefaff" opacity=".55"/><circle cx="28.5" cy="122.7" r="8" fill="#eefaff" opacity=".55"/><circle cx="40.5" cy="126.5" r="8" fill="#eefaff" opacity=".55"/><circle cx="23.5" cy="98.7" r="4.6" fill="url(#ringC)" stroke="#1b8fe2" stroke-width="3"/><circle cx="21.4" cy="111.9" r="4.6" fill="url(#ringC)" stroke="#1b8fe2" stroke-width="3"/><circle cx="28.5" cy="122.7" r="4.6" fill="url(#ringC)" stroke="#1b8fe2" stroke-width="3"/><circle cx="40.5" cy="126.5" r="4.6" fill="url(#ringC)" stroke="#1b8fe2" stroke-width="3"/><circle cx="83.6" cy="57.6" r="8" fill="#eefaff" opacity=".55"/><circle cx="73.3" cy="65.8" r="8" fill="#eefaff" opacity=".55"/><circle cx="70.4" cy="76.7" r="8" fill="#eefaff" opacity=".55"/><circle cx="74.8" cy="87" r="8" fill="#eefaff" opacity=".55"/><circle cx="83.6" cy="57.6" r="4.6" fill="url(#ringC)" stroke="#1b8fe2" stroke-width="3"/><circle cx="73.3" cy="65.8" r="4.6" fill="url(#ringC)" stroke="#1b8fe2" stroke-width="3"/><circle cx="70.4" cy="76.7" r="4.6" fill="url(#ringC)" stroke="#1b8fe2" stroke-width="3"/><circle cx="74.8" cy="87" r="4.6" fill="url(#ringC)" stroke="#1b8fe2" stroke-width="3"/><circle cx="205.3" cy="43.5" r="8" fill="#eefaff" opacity=".55"/><circle cx="192.7" cy="46.5" r="8" fill="#eefaff" opacity=".55"/><circle cx="184.8" cy="57" r="8" fill="#eefaff" opacity=".55"/><circle cx="184.8" cy="69.3" r="8" fill="#eefaff" opacity=".55"/><circle cx="205.3" cy="43.5" r="4.6" fill="url(#ringC)" stroke="#1b8fe2" stroke-width="3"/><circle cx="192.7" cy="46.5" r="4.6" fill="url(#ringC)" stroke="#1b8fe2" stroke-width="3"/><circle cx="184.8" cy="57" r="4.6" fill="url(#ringC)" stroke="#1b8fe2" stroke-width="3"/><circle cx="184.8" cy="69.3" r="4.6" fill="url(#ringC)" stroke="#1b8fe2" stroke-width="3"/><circle cx="262" cy="60.5" r="8" fill="#eefaff" opacity=".55"/><circle cx="274.9" cy="62.9" r="8" fill="#eefaff" opacity=".55"/><circle cx="283.7" cy="72.9" r="8" fill="#eefaff" opacity=".55"/><circle cx="282.5" cy="85.5" r="8" fill="#eefaff" opacity=".55"/><circle cx="262" cy="60.5" r="4.6" fill="url(#ringC)" stroke="#1b8fe2" stroke-width="3"/><circle cx="274.9" cy="62.9" r="4.6" fill="url(#ringC)" stroke="#1b8fe2" stroke-width="3"/><circle cx="283.7" cy="72.9" r="4.6" fill="url(#ringC)" stroke="#1b8fe2" stroke-width="3"/><circle cx="282.5" cy="85.5" r="4.6" fill="url(#ringC)" stroke="#1b8fe2" stroke-width="3"/><circle cx="157.5" cy="91.3" r="8" fill="#eefaff" opacity=".55"/><circle cx="168" cy="98.1" r="8" fill="#eefaff" opacity=".55"/><circle cx="171" cy="109" r="8" fill="#eefaff" opacity=".55"/><circle cx="166.6" cy="119.8" r="8" fill="#eefaff" opacity=".55"/><circle cx="157.5" cy="91.3" r="4.6" fill="url(#ringC)" stroke="#1b8fe2" stroke-width="3"/><circle cx="168" cy="98.1" r="4.6" fill="url(#ringC)" stroke="#1b8fe2" stroke-width="3"/><circle cx="171" cy="109" r="4.6" fill="url(#ringC)" stroke="#1b8fe2" stroke-width="3"/><circle cx="166.6" cy="119.8" r="4.6" fill="url(#ringC)" stroke="#1b8fe2" stroke-width="3"/><circle cx="341.2" cy="89.3" r="8" fill="#eefaff" opacity=".55"/><circle cx="348.2" cy="100.1" r="8" fill="#eefaff" opacity=".55"/><circle cx="344.1" cy="114" r="8" fill="#eefaff" opacity=".55"/><circle cx="333" cy="120.7" r="8" fill="#eefaff" opacity=".55"/><circle cx="341.2" cy="89.3" r="4.6" fill="url(#ringC)" stroke="#1b8fe2" stroke-width="3"/><circle cx="348.2" cy="100.1" r="4.6" fill="url(#ringC)" stroke="#1b8fe2" stroke-width="3"/><circle cx="344.1" cy="114" r="4.6" fill="url(#ringC)" stroke="#1b8fe2" stroke-width="3"/><circle cx="333" cy="120.7" r="4.6" fill="url(#ringC)" stroke="#1b8fe2" stroke-width="3"/></g>

<g fill="#1c1a18" font-size="50.5" stroke="#f5e8d4" stroke-width="1.3">
<text x="67.2" y="1143" textLength="355.7" lengthAdjust="spacingAndGlyphs">Dehydrated skin,</text>
<text x="76.4" y="1209" textLength="325.4" lengthAdjust="spacingAndGlyphs">lack of collagen</text>
<text x="66.6" y="1275" textLength="343.3" lengthAdjust="spacingAndGlyphs">expanded blood</text>
<text x="170.9" y="1341" textLength="147.1" lengthAdjust="spacingAndGlyphs">vessels</text>

<text x="558.6" y="1143" textLength="308.7" lengthAdjust="spacingAndGlyphs">Infusion oflack</text>
<text x="591.7" y="1209" textLength="255.8" lengthAdjust="spacingAndGlyphs">of nutrients,</text>
<text x="518.6" y="1274.5" textLength="386.1" lengthAdjust="spacingAndGlyphs">Collagen&amp;Centella</text>
<text x="638.8" y="1340" textLength="156.5" lengthAdjust="spacingAndGlyphs">asiatica</text>

<text x="1003.6" y="1137" textLength="430.4" lengthAdjust="spacingAndGlyphs">Hydrated, nourished</text>
<text x="1096.0" y="1204" textLength="245.2" lengthAdjust="spacingAndGlyphs">smoother &amp;</text>
<text x="1124.2" y="1270" textLength="187.3" lengthAdjust="spacingAndGlyphs">healthier</text>
<text x="1097.0" y="1336" textLength="253.4" lengthAdjust="spacingAndGlyphs">looking skin</text>
</g>

<g fill="#000">
<rect x="427" y="1221" width="66" height="5.3"/>
<path d="M487 1209 Q497 1220 514 1223.7 Q497 1227 487 1239.3 Q494 1224 487 1209Z"/>
<rect x="913" y="1221" width="66" height="5.3"/>
<path d="M974 1209.7 Q984 1220 1000 1223.7 Q984 1227 974 1238.7 Q981 1224 974 1209.7Z"/>
</g>
</svg>
</body></html>
